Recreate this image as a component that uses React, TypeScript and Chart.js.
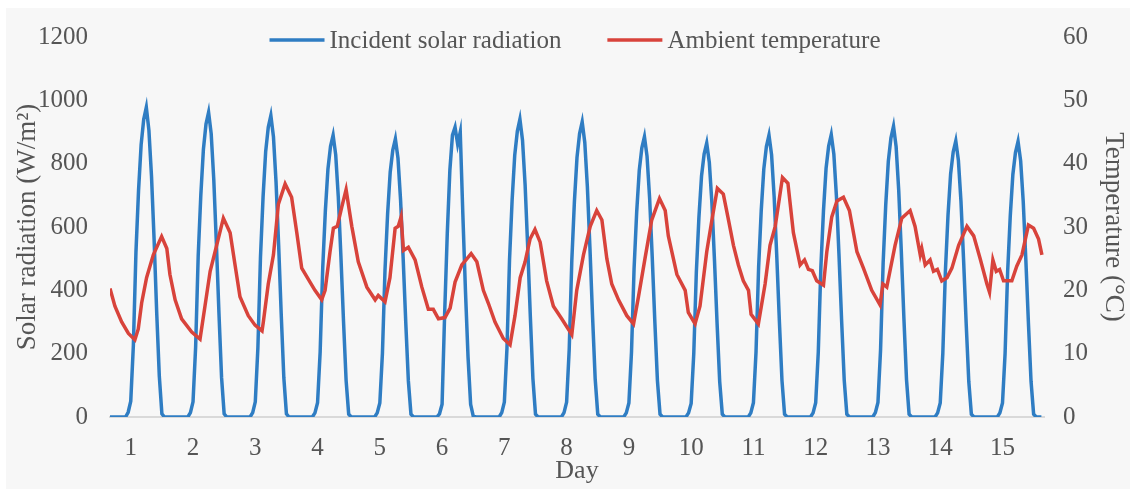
import React, { useEffect, useRef } from 'react';
import { Chart, registerables } from 'chart.js';

Chart.register(...registerables);

// ---------------- data ----------------
const dayLabels = ['1', '2', '3', '4', '5', '6', '7', '8', '9', '10', '11', '12', '13', '14', '15'];
const FIRST_LABEL_HOUR = 8; // hour (from start of record) where the "1" label sits
const HOURS_PER_DAY = 24;

// Incident solar radiation (W/m²), hourly, one row per day (hour 0..23 of each day)
const solarRadiation: number[][] = [
  [0, 0, 0, 0, 0, 0, 0, 15, 50, 225, 520, 715, 860, 940, 978, 905, 760, 560, 330, 130, 10, 0, 0, 0],
  [0, 0, 0, 0, 0, 0, 0, 14, 48, 220, 510, 700, 845, 925, 962, 895, 750, 548, 327, 125, 10, 0, 0, 0],
  [0, 0, 0, 0, 0, 0, 0, 14, 48, 218, 505, 695, 838, 915, 952, 885, 742, 543, 323, 124, 10, 0, 0, 0],
  [0, 0, 0, 0, 0, 0, 0, 13, 45, 205, 472, 650, 783, 855, 890, 828, 694, 507, 303, 116, 9, 0, 0, 0],
  [0, 0, 0, 0, 0, 0, 0, 13, 44, 200, 465, 641, 773, 843, 878, 817, 685, 500, 298, 114, 9, 0, 0, 0],
  [0, 0, 0, 0, 0, 0, 0, 10, 40, 330, 580, 780, 890, 915, 862, 900, 640, 400, 190, 40, 3, 0, 0, 0],
  [0, 0, 0, 0, 0, 0, 0, 14, 47, 216, 498, 686, 827, 902, 940, 874, 733, 536, 320, 122, 9, 0, 0, 0],
  [0, 0, 0, 0, 0, 0, 0, 14, 47, 214, 494, 680, 820, 895, 932, 867, 727, 531, 317, 121, 9, 0, 0, 0],
  [0, 0, 0, 0, 0, 0, 0, 13, 44, 204, 469, 646, 779, 850, 885, 823, 690, 504, 301, 115, 9, 0, 0, 0],
  [0, 0, 0, 0, 0, 0, 0, 13, 43, 199, 458, 631, 761, 830, 865, 804, 675, 493, 294, 112, 9, 0, 0, 0],
  [0, 0, 0, 0, 0, 0, 0, 13, 45, 205, 472, 650, 783, 854, 890, 828, 694, 507, 303, 116, 9, 0, 0, 0],
  [0, 0, 0, 0, 0, 0, 0, 13, 45, 205, 473, 651, 785, 856, 892, 830, 696, 508, 303, 116, 9, 0, 0, 0],
  [0, 0, 0, 0, 0, 0, 0, 14, 46, 211, 487, 670, 808, 881, 918, 854, 716, 523, 312, 119, 9, 0, 0, 0],
  [0, 0, 0, 0, 0, 0, 0, 13, 44, 201, 462, 637, 767, 837, 872, 811, 680, 497, 296, 113, 9, 0, 0, 0],
  [0, 0, 0, 0, 0, 0, 0, 13, 44, 200, 461, 635, 766, 835, 870, 809, 679, 496, 296, 113, 9, 0, 0, 0],
];

// Ambient temperature (°C): [hour from start of record, value]
const ambientTemperature: [number, number][] = [
  [0, 20.3], [1.9, 17.5], [4.5, 15.0], [7.1, 13.2], [9.6, 12.2], [10.9, 13.9], [12.2, 18.0], [14.1, 22.0],
  [16.7, 25.6], [19.9, 28.5], [21.9, 26.6], [23.1, 22.5], [25.1, 18.5], [27.6, 15.5], [31.5, 13.4], [34.7, 12.3],
  [36.6, 17.5], [38.6, 23.0], [40.5, 26.1], [43.7, 31.4], [46.3, 29.1], [48.2, 24.0], [50.1, 19.0], [53.3, 16.0],
  [55.9, 14.5], [58.6, 13.6], [59.1, 15.0], [61.0, 21.0], [63.0, 25.6], [64.9, 33.6], [67.5, 36.8], [70.0, 34.7],
  [72.0, 29.1], [73.9, 23.5], [77.1, 21.3], [79.0, 20.0], [81.6, 18.5], [82.9, 20.0], [84.8, 26.1], [86.1, 29.8],
  [87.6, 30.1], [89.3, 33.1], [91.0, 35.9], [93.2, 30.1], [95.7, 24.5], [99.0, 20.5], [102.2, 18.5], [103.4, 19.2],
  [106.0, 18.2], [107.9, 22.0], [109.9, 29.8], [111.1, 30.1], [112.2, 31.6], [113.1, 26.3], [115.0, 26.8], [117.6, 24.8],
  [120.2, 20.5], [122.7, 17.0], [124.6, 17.0], [126.6, 15.5], [129.1, 15.7], [131.1, 17.2], [133.0, 21.3], [135.6, 24.0],
  [139.2, 25.8], [141.4, 24.5], [143.9, 20.0], [145.8, 18.0], [148.4, 15.0], [151.6, 12.4], [154.2, 11.4], [156.1, 16.0],
  [158.1, 22.0], [160.0, 24.5], [161.9, 28.1], [163.8, 29.6], [165.8, 27.6], [168.3, 21.5], [170.9, 17.5], [174.1, 15.5],
  [178.0, 13.0], [179.9, 20.0], [182.5, 25.6], [185.1, 30.1], [187.6, 32.6], [189.6, 31.1], [191.5, 25.0], [193.4, 21.0],
  [196.0, 18.5], [199.2, 16.0], [201.8, 14.7], [203.7, 19.0], [206.2, 25.0], [208.8, 31.1], [211.8, 34.5], [214.0, 32.6],
  [215.2, 28.6], [218.5, 22.5], [221.7, 20.0], [222.9, 16.5], [225.5, 14.7], [227.4, 17.5], [230.0, 26.1], [232.0, 31.1],
  [234.1, 36.1], [236.4, 35.2], [238.4, 31.1], [240.3, 27.1], [242.2, 24.0], [244.1, 21.5], [246.1, 20.0], [247.1, 16.2],
  [249.9, 14.7], [252.5, 21.0], [254.4, 27.1], [256.4, 30.1], [259.2, 37.8], [261.3, 36.9], [263.4, 29.1], [266.0, 24.0],
  [267.7, 24.8], [269.2, 23.3], [270.7, 23.1], [272.4, 21.5], [275.0, 20.8], [276.3, 26.1], [278.2, 31.6], [280.2, 34.1],
  [282.7, 34.7], [285.0, 32.6], [287.9, 26.1], [290.4, 23.5], [293.6, 20.0], [296.8, 17.7], [297.9, 21.0], [299.4, 20.5],
  [302.6, 27.1], [305.2, 31.4], [308.4, 32.6], [310.3, 30.1], [312.3, 25.6], [312.9, 26.6], [314.2, 24.0], [316.1, 24.8],
  [317.4, 23.0], [318.9, 23.3], [320.6, 21.5], [322.6, 22.0], [324.5, 23.5], [327.1, 27.1], [330.3, 30.1], [332.9, 28.6],
  [335.4, 25.0], [338.0, 21.0], [339.0, 19.7], [340.3, 24.8], [341.6, 23.0], [342.9, 23.3], [344.4, 21.5], [347.6, 21.5],
  [349.5, 23.8], [351.5, 25.6], [354.0, 30.3], [356.0, 29.8], [357.9, 28.1], [359.2, 25.6],
];

const solarLabel = 'Incident solar radiation';
const tempLabel = 'Ambient temperature';

// ---------------- style ----------------
const W = 1130;
const H = 489;
const BLUE = '#2f7dc3';
const RED = '#d8433b';
const TEXT = '#555555';
const FONT = "'Liberation Serif', 'Times New Roman', serif";
const FS = 25;
const TITLE_FS = 27;

const backgroundPlugin = {
  id: 'bg',
  beforeDraw(chart: any) {
    const { ctx } = chart;
    ctx.save();
    ctx.fillStyle = '#ffffff';
    ctx.fillRect(0, 0, W, H);
    ctx.fillStyle = '#f7f7f7';
    ctx.fillRect(6, 8, W - 6, H - 8);
    ctx.restore();
  },
};

const legendPlugin = {
  id: 'innerLegend',
  afterDraw(chart: any) {
    const { ctx, chartArea } = chart;
    const items = [
      { label: solarLabel, color: BLUE },
      { label: tempLabel, color: RED },
    ];
    const lineW = 55;
    const gap = 5;
    const itemGap = 46;
    ctx.save();
    ctx.font = `${FS}px ${FONT}`;
    const widths = items.map((it) => ctx.measureText(it.label).width);
    const total = widths.reduce((a, b) => a + b, 0) + items.length * (lineW + gap) + itemGap * (items.length - 1);
    let x = (chartArea.left + chartArea.right) / 2 - 2 - total / 2;
    const yLine = 40;
    items.forEach((it, i) => {
      ctx.strokeStyle = it.color;
      ctx.lineWidth = 3.5;
      ctx.beginPath();
      ctx.moveTo(x, yLine);
      ctx.lineTo(x + lineW, yLine);
      ctx.stroke();
      x += lineW + gap;
      ctx.fillStyle = TEXT;
      ctx.textBaseline = 'alphabetic';
      ctx.textAlign = 'left';
      ctx.fillText(it.label, x, 48);
      x += widths[i] + itemGap;
    });
    ctx.restore();
  },
};

export default function App() {
  const ref = useRef<HTMLCanvasElement | null>(null);

  useEffect(() => {
    if (!ref.current) return;
    Chart.defaults.font.family = FONT;
    Chart.defaults.font.size = FS;
    Chart.defaults.color = TEXT;

    const solarPoints = solarRadiation.flat().map((v, i) => ({ x: i, y: v }));
    const tempPoints = ambientTemperature.map(([x, y]) => ({ x, y }));

    const chart = new Chart(ref.current, {
      type: 'line',
      data: {
        datasets: [
          {
            label: tempLabel,
            data: tempPoints,
            borderColor: RED,
            backgroundColor: RED,
            borderWidth: 3.5,
            pointRadius: 0,
            tension: 0,
            yAxisID: 'yT',
          },
          {
            label: solarLabel,
            data: solarPoints,
            borderColor: BLUE,
            backgroundColor: BLUE,
            borderWidth: 3.5,
            pointRadius: 0,
            tension: 0,
            yAxisID: 'yS',
          },
        ],
      },
      options: {
        responsive: false,
        animation: false,
        devicePixelRatio: 1,
        layout: { padding: { left: 12, right: 1, top: 21, bottom: 2 } },
        plugins: {
          legend: { display: false },
          tooltip: { enabled: false },
        },
        scales: {
          x: {
            type: 'linear',
            min: 0,
            max: solarRadiation.length * HOURS_PER_DAY,
            grid: { display: false, drawTicks: false },
            border: { display: true, color: '#d9d9d9', width: 2 },
            ticks: {
              color: TEXT,
              font: { size: FS },
              padding: 16,
              autoSkip: false,
              maxRotation: 0,
              callback: (_v: any, index: number) => dayLabels[index] ?? '',
            },
            afterBuildTicks: (scale: any) => {
              scale.ticks = dayLabels.map((_, i) => ({ value: FIRST_LABEL_HOUR + i * HOURS_PER_DAY }));
            },
            afterFit: (scale: any) => {
              scale.height = 70;
            },
            title: { display: true, text: 'Day', color: TEXT, font: { size: 26 }, padding: 0 },
          },
          yS: {
            type: 'linear',
            position: 'left',
            min: 0,
            max: 1200,
            grid: { display: false, drawTicks: false },
            border: { display: false },
            ticks: {
              stepSize: 200,
              padding: 22,
              color: TEXT,
              font: { size: FS },
              callback: (v: any) => String(v),
            },
            afterFit: (scale: any) => {
              scale.width = 98;
            },
            title: { display: true, text: 'Solar radiation (W/m²)', color: TEXT, font: { size: TITLE_FS }, padding: 0 },
          },
          yT: {
            type: 'linear',
            position: 'right',
            min: 0,
            max: 60,
            grid: { display: false, drawTicks: false },
            border: { display: false },
            ticks: {
              stepSize: 10,
              padding: 19,
              color: TEXT,
              font: { size: FS },
              callback: (v: any) => String(v),
            },
            afterFit: (scale: any) => {
              scale.width = 85;
            },
            title: { display: true, text: 'Temperature (°C)', color: TEXT, font: { size: TITLE_FS }, padding: 0 },
          },
        },
      },
      plugins: [backgroundPlugin, legendPlugin],
    } as any);

    return () => chart.destroy();
  }, []);

  return (
    <div style={{ position: 'fixed', left: 0, top: 0, width: W, height: H }}>
      <canvas ref={ref} width={W} height={H} style={{ display: 'block', width: W, height: H }} />
    </div>
  );
}
